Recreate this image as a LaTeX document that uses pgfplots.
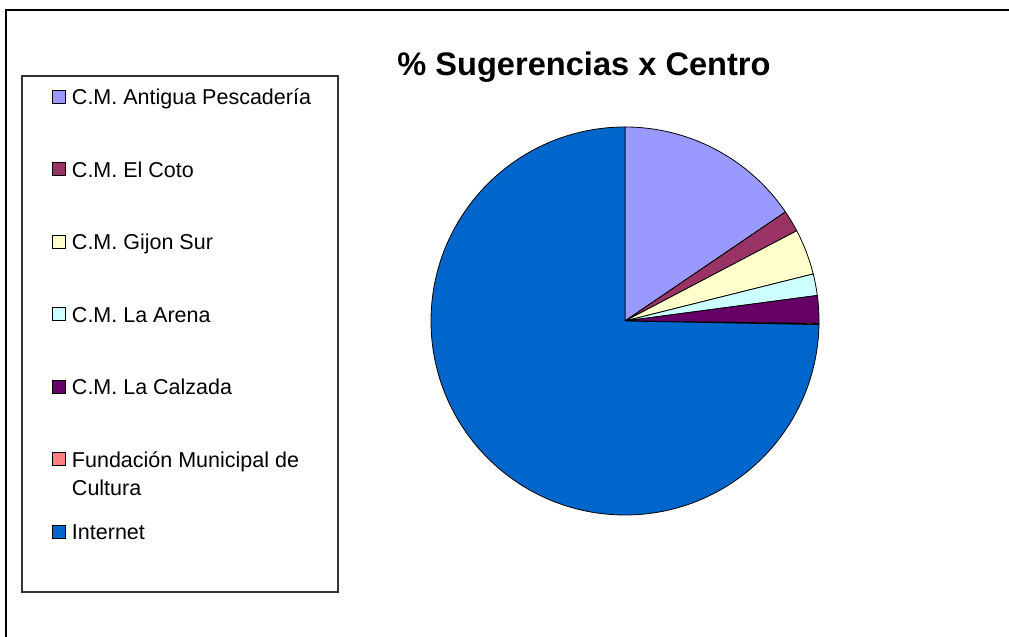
\documentclass[border=0pt]{standalone}
\usepackage{pgfplots}
\pgfplotsset{compat=1.18}
\usepackage{fontspec}
\setmainfont{Liberation Sans}
\definecolor{cPesc}{HTML}{9999FF}
\definecolor{cCoto}{HTML}{993366}
\definecolor{cGijon}{HTML}{FFFFCC}
\definecolor{cArena}{HTML}{CCFFFF}
\definecolor{cCalz}{HTML}{660066}
\definecolor{cFund}{HTML}{FF8080}
\definecolor{cInt}{HTML}{0066CC}

% percentages per centre (share of suggestions)
\def\vPesc{15.5}
\def\vCoto{1.8}
\def\vGijon{3.8}
\def\vArena{1.8}
\def\vCalz{2.3}
\def\vFund{0.1}
\def\vInt{74.7}

% #1 cumulative percent before the slice, #2 percent, #3 colour
\newcommand\pieslice[3]{%
  \pgfmathsetmacro\sa{90-3.6*(#1)}%
  \pgfmathsetmacro\ea{90-3.6*((#1)+(#2))}%
  \pgfmathsetmacro\sx{cos(\sa)}%
  \pgfmathsetmacro\sy{sin(\sa)}%
  \edef\doslice{\noexpand\addplot[fill=#3, draw=black, line width=0.8bp]
    coordinates {(0,0) (\sx,\sy)} arc[start angle=\sa, end angle=\ea, radius=1] -- cycle;}%
  \doslice
}

\begin{document}
\begin{tikzpicture}[x=1bp,y=1bp]
\useasboundingbox (0,0) rectangle (1009,637);
\fill[white] (0,0) rectangle (1009,637);
\draw[line width=2bp] (6,0) -- (6,627) -- (1009,627);
\draw[line width=1.5bp, black!80] (22,561) rectangle (338,45);
\node[font=\bfseries\fontsize{32.6bp}{38bp}\selectfont, anchor=base] at (584,561) {\% Sugerencias x Centro};
\begin{axis}[
  x=194bp, y=194bp,
  xmin=-1.05, xmax=1.05, ymin=-1.05, ymax=1.05,
  hide axis, clip=false,
  anchor=origin, at={(625bp,316bp)},
  legend image code/.code={\draw[#1, line width=0.8bp] (0bp,-4bp) rectangle (13bp,9bp);},
  legend cell align=left,
  legend style={draw=none, fill=none, inner sep=0pt,
    at={(-0.9065,1.0702)}, anchor=north west,
    font=\fontsize{21.5bp}{26bp}\selectfont,
    row sep=51.5bp,
    /tikz/every odd column/.append style={column sep=4bp},
    nodes={inner ysep=0pt, text height=16bp, text depth=5bp}},
]
\pieslice{0}{\vPesc}{cPesc}
\addlegendentry{C.M. Antigua Pescadería}
\pieslice{\vPesc}{\vCoto}{cCoto}
\addlegendentry{C.M. El Coto}
\pieslice{\vPesc+\vCoto}{\vGijon}{cGijon}
\addlegendentry{C.M. Gijon Sur}
\pieslice{\vPesc+\vCoto+\vGijon}{\vArena}{cArena}
\addlegendentry{C.M. La Arena}
\pieslice{\vPesc+\vCoto+\vGijon+\vArena}{\vCalz}{cCalz}
\addlegendentry{C.M. La Calzada}
\pieslice{\vPesc+\vCoto+\vGijon+\vArena+\vCalz}{\vFund}{cFund}
\addlegendentry{\makebox[0pt][l]{\smash{\raisebox{-28bp}{Cultura}}}Fundación Municipal de}
\pieslice{\vPesc+\vCoto+\vGijon+\vArena+\vCalz+\vFund}{\vInt}{cInt}
\addlegendentry{Internet}
\end{axis}
\end{tikzpicture}
\end{document}
